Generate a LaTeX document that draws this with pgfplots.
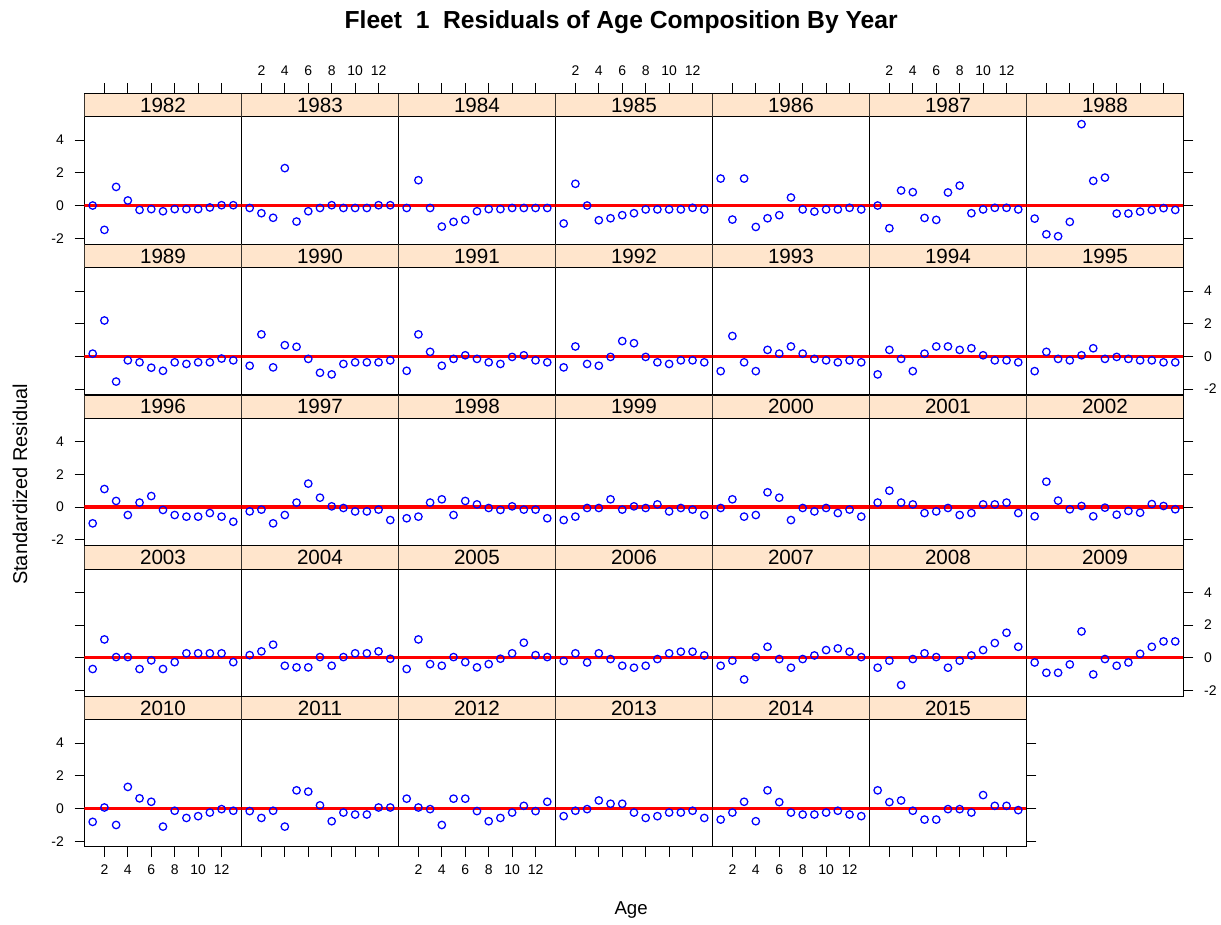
\documentclass[border=0pt]{standalone}
\usepackage{fontspec}
\setmainfont{Liberation Sans}
\usepackage{pgfplots}
\usepackage{pgfplotstable}
\pgfplotsset{compat=1.18}
\usepgfplotslibrary{groupplots}
\definecolor{stripbg}{HTML}{FFE5CC}

% standardized residuals by age (rows) and year (columns)
\pgfplotstableread{
age y1982 y1983 y1984 y1985 y1986 y1987 y1988
1   0.00 -0.15 -0.15 -1.10  1.65  0.00 -0.80
2  -1.49 -0.47  1.55  1.33 -0.86 -1.39 -1.76
3   1.14 -0.75 -0.15  0.00  1.65  0.92 -1.88
4   0.31  2.29 -1.29 -0.90 -1.31  0.82 -1.00
5  -0.27 -0.98 -1.00 -0.78 -0.78 -0.76  4.98
6  -0.22 -0.35 -0.88 -0.59 -0.59 -0.88  1.51
7  -0.35 -0.15 -0.35 -0.47  0.49  0.80  1.71
8  -0.22  0.02 -0.22 -0.24 -0.24  1.22 -0.49
9  -0.22 -0.15 -0.22 -0.24 -0.37 -0.47 -0.49
10 -0.22 -0.15 -0.15 -0.24 -0.24 -0.24 -0.37
11 -0.12 -0.15 -0.15 -0.24 -0.24 -0.14 -0.27
12  0.02  0.02 -0.15 -0.14 -0.14 -0.14 -0.16
13  0.02  0.02 -0.15 -0.24 -0.24 -0.24 -0.27
}\rowA
\pgfplotstableread{
age y1989 y1990 y1991 y1992 y1993 y1994 y1995
1   0.16 -0.58 -0.89 -0.68 -0.91 -1.11 -0.91
2   2.19  1.34  1.34  0.60  1.24  0.39  0.27
3  -1.55 -0.68  0.27 -0.47 -0.37 -0.16 -0.16
4  -0.25  0.68 -0.58 -0.58 -0.91 -0.91 -0.25
5  -0.37  0.58 -0.16 -0.04  0.39  0.16  0.06
6  -0.70 -0.16  0.06  0.93  0.16  0.60  0.49
7  -0.89 -1.01 -0.16  0.80  0.60  0.60 -0.16
8  -0.37 -1.11 -0.37 -0.04  0.16  0.39 -0.04
9  -0.47 -0.47 -0.47 -0.37 -0.16  0.49 -0.16
10 -0.37 -0.37 -0.04 -0.47 -0.25  0.06 -0.25
11 -0.37 -0.37  0.06 -0.25 -0.37 -0.25 -0.25
12 -0.14 -0.37 -0.25 -0.25 -0.25 -0.25 -0.37
13 -0.25 -0.25 -0.37 -0.37 -0.37 -0.37 -0.37
}\rowB
\pgfplotstableread{
age y1996 y1997 y1998 y1999 y2000 y2001 y2002
1  -1.00 -0.27 -0.69 -0.80 -0.06  0.27 -0.57
2   1.10 -0.16 -0.59 -0.59  0.47  1.00  1.55
3   0.37 -1.00  0.27 -0.06 -0.59  0.27  0.39
4  -0.49 -0.49  0.47 -0.06 -0.49  0.16 -0.14
5   0.27  0.27 -0.49  0.47  0.90 -0.37  0.06
6   0.67  1.43  0.37 -0.16  0.57 -0.27 -0.57
7  -0.18  0.57  0.16  0.04 -0.80 -0.06 -0.04
8  -0.49  0.04 -0.06 -0.06 -0.06 -0.49 -0.47
9  -0.59 -0.06 -0.18  0.16 -0.27 -0.37 -0.24
10 -0.59 -0.27  0.04 -0.27 -0.06  0.16 -0.35
11 -0.37 -0.27 -0.16 -0.06 -0.37  0.16  0.18
12 -0.59 -0.16 -0.16 -0.16 -0.16  0.27  0.06
13 -0.90 -0.80 -0.69 -0.49 -0.59 -0.37 -0.14
}\rowC
\pgfplotstableread{
age y2003 y2004 y2005 y2006 y2007 y2008 y2009
1  -0.69  0.16 -0.69 -0.20 -0.49 -0.61 -0.29
2   1.12  0.39  1.12  0.27 -0.18 -0.18 -0.92
3   0.04  0.80 -0.39 -0.29 -1.33 -1.67 -0.92
4   0.04 -0.49 -0.49  0.27  0.04 -0.08 -0.41
5  -0.69 -0.59  0.04 -0.08  0.67  0.27  1.61
6  -0.16 -0.59 -0.27 -0.49 -0.08  0.04 -1.02
7  -0.69  0.04 -0.59 -0.61 -0.61 -0.61 -0.08
8  -0.27 -0.49 -0.39 -0.49 -0.08 -0.18 -0.49
9   0.27  0.04 -0.06 -0.08  0.14  0.14 -0.29
10  0.27  0.27  0.27  0.27  0.47  0.47  0.24
11  0.27  0.27  0.92  0.37  0.57  0.90  0.67
12  0.27  0.39  0.16  0.37  0.37  1.53  1.00
13 -0.27 -0.06  0.04  0.14  0.04  0.67  1.00
}\rowD
\pgfplotstableread{
age y2010 y2011 y2012 y2013 y2014 y2015
1  -0.82 -0.16  0.60 -0.47 -0.68  1.11
2   0.06 -0.58  0.06 -0.14 -0.25  0.39
3  -1.01 -0.14 -0.04 -0.04  0.41  0.49
4   1.32 -1.11 -1.01  0.49 -0.78 -0.14
5   0.62  1.11  0.60  0.29  1.11 -0.68
6   0.41  1.03  0.60  0.29  0.39 -0.68
7  -1.11  0.19 -0.16 -0.25 -0.25 -0.04
8  -0.14 -0.78 -0.78 -0.58 -0.37 -0.04
9  -0.58 -0.25 -0.58 -0.47 -0.37 -0.25
10 -0.47 -0.37 -0.25 -0.25 -0.25  0.82
11 -0.25 -0.37  0.16 -0.25 -0.14  0.16
12 -0.04  0.06 -0.16 -0.14 -0.37  0.16
13 -0.14  0.06  0.41 -0.58 -0.47 -0.10
}\rowE

% each axis holds the panel plus its strip on top (ymax raised to make room)
\pgfplotsset{
  panel/.style={
    scale only axis, width=117.9pt, height=113.2pt,
    xmin=0.3, xmax=13.7, ymin=-2.35, ymax=6.876,
    xtick=\empty, ytick=\empty,
    axis line style={line width=0.6pt},
    tick style={line width=0.6pt, black},
    tick align=outside, major tick length=7.5pt,
    ticklabel style={font=\fontsize{10.5}{12}\selectfont},
  },
  TX/.style={xtick={2,4,...,12}, xticklabels={}, xtick pos=right},
  TXl/.style={xtick={2,4,...,12}, xticklabels={2,4,6,8,10,12}, xtick pos=right,
    xticklabel pos=right, xticklabel style={yshift=2pt}},
  BX/.style={xtick={2,4,...,12}, xticklabels={}, xtick pos=left},
  BXl/.style={xtick={2,4,...,12}, xticklabels={2,4,6,8,10,12}, xtick pos=left,
    xticklabel pos=left, xticklabel style={yshift=-2.5pt}},
  LY/.style={ytick={-2,0,2,4}, yticklabels={}, ytick pos=left},
  LYl/.style={ytick={-2,0,2,4}, yticklabels={-2,0,2,4}, ytick pos=left,
    yticklabel pos=left, yticklabel style={xshift=-4.5pt}},
  RY/.style={ytick={-2,0,2,4}, yticklabels={}, ytick pos=right},
  RYl/.style={ytick={-2,0,2,4}, yticklabels={-2,0,2,4}, ytick pos=right,
    yticklabel pos=right, yticklabel style={xshift=4.5pt}},
}
\tikzset{strip/.style={anchor=north, fill=stripbg, draw=black, line width=0.6pt,
  minimum width=117.9pt, minimum height=17.5pt, inner sep=0pt,
  font=\fontsize{15.5}{17}\selectfont}}

\newcommand{\panelplots}[2]{%
  \addplot[red, line width=2.5pt] coordinates {(0.3,0) (13.7,0)};
  \addplot[only marks, mark=o, blue, mark size=2.8pt, mark options={line width=0.95pt}]
    table[x=age, y=y#2] {#1};
  \node[strip] at (rel axis cs:0.5,1) {#2};
}

\begin{document}
\begin{tikzpicture}
\begin{groupplot}[group style={group size=7 by 5, horizontal sep=0pt, vertical sep=0pt}, panel]
% row 1
\nextgroupplot[TX, LYl] \panelplots{\rowA}{1982}
\nextgroupplot[TXl] \panelplots{\rowA}{1983}
\nextgroupplot[TX] \panelplots{\rowA}{1984}
\nextgroupplot[TXl] \panelplots{\rowA}{1985}
\nextgroupplot[TX] \panelplots{\rowA}{1986}
\nextgroupplot[TXl] \panelplots{\rowA}{1987}
\nextgroupplot[TX, RY] \panelplots{\rowA}{1988}
% row 2
\nextgroupplot[LY] \panelplots{\rowB}{1989}
\nextgroupplot \panelplots{\rowB}{1990}
\nextgroupplot \panelplots{\rowB}{1991}
\nextgroupplot \panelplots{\rowB}{1992}
\nextgroupplot \panelplots{\rowB}{1993}
\nextgroupplot \panelplots{\rowB}{1994}
\nextgroupplot[RYl] \panelplots{\rowB}{1995}
% row 3
\nextgroupplot[LYl] \panelplots{\rowC}{1996}
\nextgroupplot \panelplots{\rowC}{1997}
\nextgroupplot \panelplots{\rowC}{1998}
\nextgroupplot \panelplots{\rowC}{1999}
\nextgroupplot \panelplots{\rowC}{2000}
\nextgroupplot \panelplots{\rowC}{2001}
\nextgroupplot[RY] \panelplots{\rowC}{2002}
% row 4
\nextgroupplot[LY] \panelplots{\rowD}{2003}
\nextgroupplot \panelplots{\rowD}{2004}
\nextgroupplot \panelplots{\rowD}{2005}
\nextgroupplot \panelplots{\rowD}{2006}
\nextgroupplot \panelplots{\rowD}{2007}
\nextgroupplot \panelplots{\rowD}{2008}
\nextgroupplot[RYl] \panelplots{\rowD}{2009}
% row 5
\nextgroupplot[BXl, LYl] \panelplots{\rowE}{2010}
\nextgroupplot[BX] \panelplots{\rowE}{2011}
\nextgroupplot[BXl] \panelplots{\rowE}{2012}
\nextgroupplot[BX] \panelplots{\rowE}{2013}
\nextgroupplot[BXl] \panelplots{\rowE}{2014}
\nextgroupplot[BX, RY] \panelplots{\rowE}{2015}
\nextgroupplot[group/empty plot]
\end{groupplot}
\coordinate (O) at (group c1r1.north west);
\node[font=\bfseries\fontsize{18.5}{22}\selectfont] at ([shift={(403pt,53.5pt)}]O)
  {Fleet\ \ 1\ \ Residuals of Age Composition By Year};
\node[rotate=90, font=\fontsize{15}{18}\selectfont] at ([shift={(-48.5pt,-293.8pt)}]O)
  {Standardized Residual};
\node[font=\fontsize{14}{17}\selectfont] at ([shift={(410.5pt,-613.2pt)}]O) {Age};
\path ([shift={(-63.45pt,69.98pt)}]O) rectangle ([shift={(852.3pt,-624.5pt)}]O);
\end{tikzpicture}
\end{document}
